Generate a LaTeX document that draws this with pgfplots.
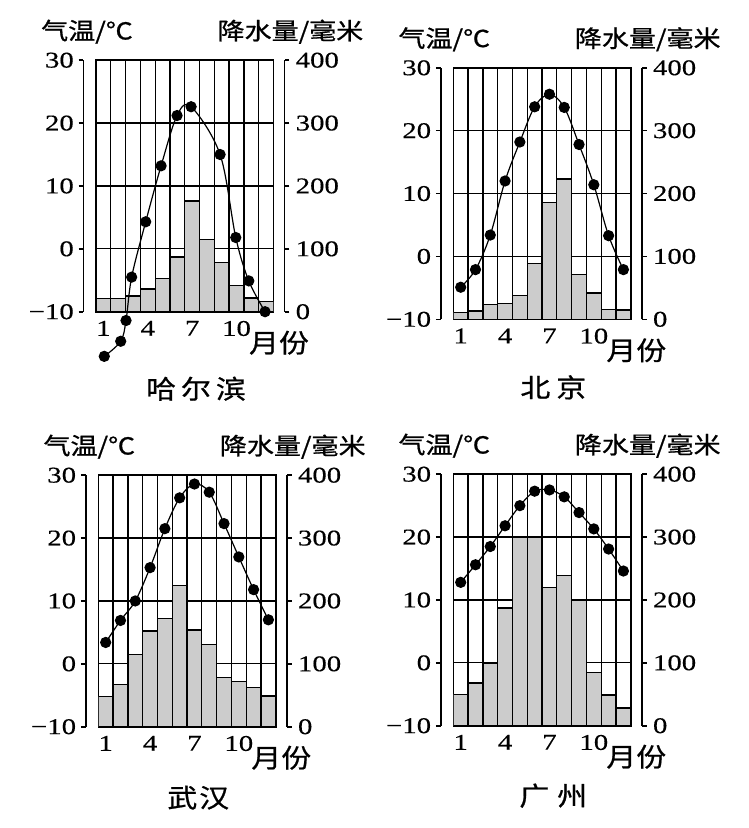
\documentclass[border=0pt]{standalone}
\usepackage{fontspec}
\setmainfont{Liberation Serif}[FakeStretch=1.28, FakeBold=0.4]
\newfontfamily\cjk{Noto Sans CJK SC}[FakeStretch=1.15, FakeBold=0.8]
\usepackage{pgfplots}
\pgfplotsset{compat=1.18}
\definecolor{barfill}{RGB}{204,204,204}

\pgfplotsset{
  /pgf/number format/assume math mode=true,
  tnum/.style={font=\fontsize{22.5}{24}\selectfont, inner sep=0pt},
}

% #1 box left (px), #2 box bottom (px from top), #3 rainfall, #4 temperature, #5 city, #6 city offset
\newcommand{\panel}[6]{%
  % grid box
  \begin{axis}[at={({#1*1pt},{-#2*1pt})}, anchor=south west,
    scale only axis, width=177.5pt, height=251.5pt,
    xmin=0.5, xmax=12.5, ymin=-10, ymax=30,
    xtick={1,4,7,10}, xticklabels={1,4,7,10},
    minor xtick={1.5,2.5,...,11.5}, xminorgrids,
    ytick={0,10,20}, yticklabels={}, ymajorgrids,
    major tick length=0pt, minor tick length=0pt,
    grid style={black, line width=1.3pt},
    minor grid style={black, line width=1.3pt},
    axis line style={line width=1.6pt},
    xticklabel style={tnum, anchor=north, yshift=-9pt}]
  \end{axis}
  % rainfall bars
  \begin{axis}[at={({#1*1pt},{-#2*1pt})}, anchor=south west,
    scale only axis, width=177.5pt, height=251.5pt,
    xmin=0.5, xmax=12.5, ymin=0, ymax=400, hide axis]
    \addplot[ybar, bar width=1, bar shift=0pt, fill=barfill, draw=black, line width=1.3pt]
      coordinates {#3};
  \end{axis}
  % temperature
  \begin{axis}[at={({#1*1pt},{-#2*1pt})}, anchor=south west,
    scale only axis, width=177.5pt, height=251.5pt,
    xmin=0.5, xmax=12.5, ymin=-10, ymax=30, hide axis, clip=false]
    \addplot[smooth, tension=0.55, black, line width=1.2pt,
      mark=*, mark size=5pt, mark options={fill=black}]
      coordinates {#4};
  \end{axis}
  % left axis
  \begin{axis}[at={({(#1-12.5)*1pt},{-#2*1pt})}, anchor=south west,
    scale only axis, width=1pt, height=251.5pt,
    xmin=0, xmax=1, ymin=-10, ymax=30,
    axis x line=none, axis y line*=left,
    ytick={-10,0,...,30}, yticklabels={−10,0,10,20,30},
    tick align=outside, major tick length=5pt,
    every tick/.style={black, line width=1.6pt},
    axis line style={line width=1.6pt},
    yticklabel style={tnum, anchor=east, xshift=-4.5pt}]
  \end{axis}
  % right axis
  \begin{axis}[at={({(#1+177.5+11-1)*1pt},{-#2*1pt})}, anchor=south west,
    scale only axis, width=1pt, height=251.5pt,
    xmin=0, xmax=1, ymin=0, ymax=400,
    axis x line=none, axis y line*=right,
    ytick={0,100,...,400}, yticklabels={0,100,200,300,400},
    tick align=outside, major tick length=5pt,
    every tick/.style={black, line width=1.6pt},
    axis line style={line width=1.6pt},
    yticklabel style={tnum, anchor=west, xshift=6pt}]
  \end{axis}
  \node[anchor=west, inner sep=0pt, font=\cjk\fontsize{23.5}{25}\selectfont]
    at ({(#1-55)*1pt},{-(#2-251.5-28.5)*1pt}) {气温/℃};
  \node[anchor=east, inner sep=0pt, font=\cjk\fontsize{23.5}{25}\selectfont]
    at ({(#1+177.5+90)*1pt},{-(#2-251.5-28.5)*1pt}) {降水量/毫米};
  \node[inner sep=0pt, font=\cjk\fontsize{26}{28}\selectfont]
    at ({(#1+177.5+5.5)*1pt},{-(#2+31)*1pt}) {月份};
  \node[inner sep=0pt, font=\cjk\fontsize{26}{28}\selectfont]
    at ({(#1+100)*1pt},{-(#2+#6)*1pt}) {#5};
}

\begin{document}
\begin{tikzpicture}
\useasboundingbox (0pt,0pt) rectangle (749pt,-828pt);

% 哈尔滨
\panel{96}{311.7}
  {(1,21) (2,21) (3,25) (4,36) (5,53) (6,87) (7,176) (8,115) (9,78) (10,42) (11,22) (12,16)}
  {(1.06,-17.1) (2.17,-14.7) (2.53,-11.4) (2.91,-4.5) (3.86,4.3) (4.90,13.2) (5.98,21.2) (6.93,22.6) (8.89,15.0) (9.95,1.8) (10.83,-5.1) (11.93,-10)}
  {哈\hspace{5pt}尔\hspace{5pt}滨}{77}

% 北京
\panel{453.3}{319.3}
  {(1,11) (2,13) (3,23) (4,25) (5,38) (6,89) (7,186) (8,223) (9,71) (10,42) (11,16) (12,15)}
  {(1,-4.9) (2,-2.1) (3,3.4) (4,12.0) (5,18.2) (6,23.8) (7,25.8) (8,23.7) (9,17.8) (10,11.4) (11,3.3) (12,-2.1)}
  {北\hspace{6pt}京}{68}

% 武汉
\panel{98.3}{726.7}
  {(1,48) (2,67) (3,115) (4,152) (5,172) (6,225) (7,154) (8,131) (9,78) (10,72) (11,62) (12,49)}
  {(1,3.4) (2,6.9) (3,10.0) (4,15.3) (5,21.5) (6,26.4) (7,28.6) (8,27.3) (9,22.3) (10,17.0) (11,11.8) (12,7.0)}
  {武\hspace{2pt}汉}{71}

% 广州
\panel{453.3}{725.7}
  {(1,50) (2,68) (3,99) (4,187) (5,300) (6,300) (7,220) (8,239) (9,199) (10,85) (11,49) (12,28)}
  {(1,12.8) (2,15.6) (3,18.5) (4,21.8) (5,25.0) (6,27.3) (7,27.5) (8,26.4) (9,23.9) (10,21.3) (11,18.1) (12,14.6)}
  {广\hspace{8pt}州}{70}

\end{tikzpicture}
\end{document}
